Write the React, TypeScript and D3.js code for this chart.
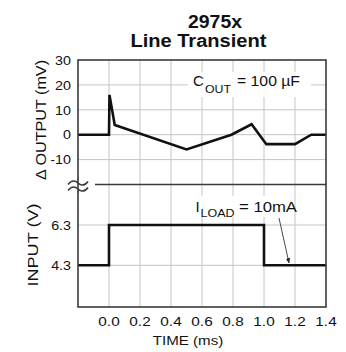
import React from "react";
import * as d3 from "d3";

const titleLines = ["2975x", "Line Transient"];
const xTicks = [0.0, 0.2, 0.4, 0.6, 0.8, 1.0, 1.2, 1.4];
const outTicks = [30, 20, 10, 0, -10];
const inTicks = [6.3, 4.3];
const outX = [-0.2, 0.0, 0.003, 0.037, 0.5, 0.79, 0.92, 1.015, 1.2, 1.305, 1.4];
const outY = [0, 0, 16, 3.9, -5.9, 0, 4.2, -3.8, -3.8, 0, 0];
const inX = [-0.2, 0.0, 0.0, 1.0, 1.0, 1.4];
const inY = [4.3, 4.3, 6.3, 6.3, 4.3, 4.3];

const FONT = "'Liberation Sans', Arial, Helvetica, sans-serif";
const SX = 1.1;

const L = 78, R = 326, T = 60, B = 307, BRK = 184.5;

function SText({ x, y, children, anchor = "start", size = 13, weight = "normal", sx = SX, rotate = 0 }: any) {
  return (
    <g transform={`translate(${x},${y}) rotate(${rotate}) scale(${sx},1)`}>
      <text x={0} y={0} textAnchor={anchor} fontSize={size} fontWeight={weight} fontFamily={FONT} fill="#111">
        {children}
      </text>
    </g>
  );
}

export default function App() {
  const x = d3.scaleLinear().domain([-0.2, 1.4]).range([L, R]);
  const yOut = d3.scaleLinear().domain([-20, 30]).range([BRK, T]);
  const yIn = d3.scaleLinear().domain([4.3, 6.3]).range([265.3, 225]);

  const outLine = d3.line<number>().x((d, i) => x(outX[i])).y((d) => yOut(d));
  const inLine = d3.line<number>().x((d, i) => x(inX[i])).y((d) => yIn(d));

  const grid = "#c4c4c4";
  const frame = "#3a3a3a";

  const tilde = (cy: number) =>
    `M${L - 10},${cy + 1.5} C${L - 6},${cy - 4} ${L - 2},${cy - 2} ${L},${cy} S${L + 6},${cy + 4} ${L + 10},${cy - 1.5}`;

  return (
    <svg width={346} height={352} style={{ position: "absolute", left: 0, top: 0, background: "#fff" }}>
      <rect x={0} y={0} width={346} height={352} fill="#fff" />
      {/* title */}
      <text x={215} y={28} textAnchor="middle" fontSize={17.5} fontWeight="bold" fontFamily={FONT} fill="#111" textLength={54} lengthAdjust="spacingAndGlyphs">
        {titleLines[0]}
      </text>
      <text x={198.4} y={46.8} textAnchor="middle" fontSize={17.5} fontWeight="bold" fontFamily={FONT} fill="#111" textLength={136} lengthAdjust="spacingAndGlyphs">
        {titleLines[1]}
      </text>

      {/* vertical gridlines */}
      {xTicks.slice(0, -1).map((t) => (
        <line key={"vg" + t} x1={x(t)} x2={x(t)} y1={T} y2={B} stroke={grid} strokeWidth={1} />
      ))}
      {/* horizontal gridlines */}
      {outTicks.slice(1).map((t) => (
        <line key={"hg" + t} x1={L} x2={R} y1={yOut(t)} y2={yOut(t)} stroke={grid} strokeWidth={1} />
      ))}
      {inTicks.map((t) => (
        <line key={"hi" + t} x1={L} x2={R} y1={yIn(t)} y2={yIn(t)} stroke={grid} strokeWidth={1} />
      ))}

      {/* annotation backgrounds */}
      <rect x={188} y={72} width={123} height={25} fill="#fff" />
      <rect x={190} y={196} width={100} height={21} fill="#fff" />

      {/* data */}
      <path d={outLine(outY) || ""} fill="none" stroke="#111" strokeWidth={2.6} strokeLinejoin="miter" />
      <path d={inLine(inY) || ""} fill="none" stroke="#111" strokeWidth={2.6} strokeLinejoin="miter" />

      {/* frame */}
      <rect x={L} y={T} width={R - L} height={B - T} fill="none" stroke={frame} strokeWidth={1.6} />
      <line x1={95} x2={R} y1={BRK} y2={BRK} stroke={frame} strokeWidth={1.5} />
      <rect x={L - 11} y={BRK - 5} width={22} height={12} fill="#fff" />
      <line x1={L} x2={L} y1={BRK - 6} y2={BRK + 8} stroke={frame} strokeWidth={1.6} />
      <path d={tilde(BRK - 1.5)} fill="none" stroke={frame} strokeWidth={1.5} />
      <path d={tilde(BRK + 4.5)} fill="none" stroke={frame} strokeWidth={1.5} />

      {/* y tick labels */}
      {outTicks.map((t) => (
        <SText key={"yl" + t} x={71} y={yOut(t) + 4.7} anchor="end" size={13}>
          {String(t)}
        </SText>
      ))}
      {inTicks.map((t) => (
        <SText key={"il" + t} x={71} y={yIn(t) + 4.7} anchor="end" size={13}>
          {t.toFixed(1)}
        </SText>
      ))}
      {/* x tick labels */}
      {xTicks.map((t) => (
        <SText key={"xl" + t} x={x(t)} y={326} anchor="middle" size={13} sx={1.18}>
          {t.toFixed(1)}
        </SText>
      ))}
      <SText x={188} y={344.5} anchor="middle" size={13.5} sx={1.12}>
        TIME (ms)
      </SText>

      {/* axis titles */}
      <text transform="translate(45.5,120) rotate(-90)" textAnchor="middle" fontSize={14} fontFamily={FONT} fill="#111" textLength={120} lengthAdjust="spacingAndGlyphs">
        Δ OUTPUT (mV)
      </text>
      <text transform="translate(38,245) rotate(-90)" textAnchor="middle" fontSize={14} fontFamily={FONT} fill="#111" textLength={83} lengthAdjust="spacingAndGlyphs">
        INPUT (V)
      </text>

      {/* annotations */}
      <text x={193} y={86} fontSize={15} fontFamily={FONT} fill="#111">C</text>
      <text x={205} y={93} fontSize={11.5} fontFamily={FONT} fill="#111" textLength={26} lengthAdjust="spacingAndGlyphs">OUT</text>
      <text x={237} y={86} fontSize={14} fontFamily={FONT} fill="#111" textLength={63} lengthAdjust="spacingAndGlyphs">= 100 µF</text>

      <text x={195.5} y={211.5} fontSize={15} fontFamily={FONT} fill="#111">I</text>
      <text x={200.5} y={217} fontSize={11.5} fontFamily={FONT} fill="#111" textLength={34} lengthAdjust="spacingAndGlyphs">LOAD</text>
      <text x={239} y={211.5} fontSize={14} fontFamily={FONT} fill="#111" textLength={58} lengthAdjust="spacingAndGlyphs">= 10mA</text>

      <defs>
        <marker id="arr" viewBox="0 0 10 10" refX={9} refY={5} markerWidth={6} markerHeight={6} orient="auto">
          <path d="M0,1 L10,5 L0,9 Z" fill="#222" />
        </marker>
      </defs>
      <line x1={279} y1={218} x2={289} y2={263} stroke="#333" strokeWidth={0.9} markerEnd="url(#arr)" />
    </svg>
  );
}
